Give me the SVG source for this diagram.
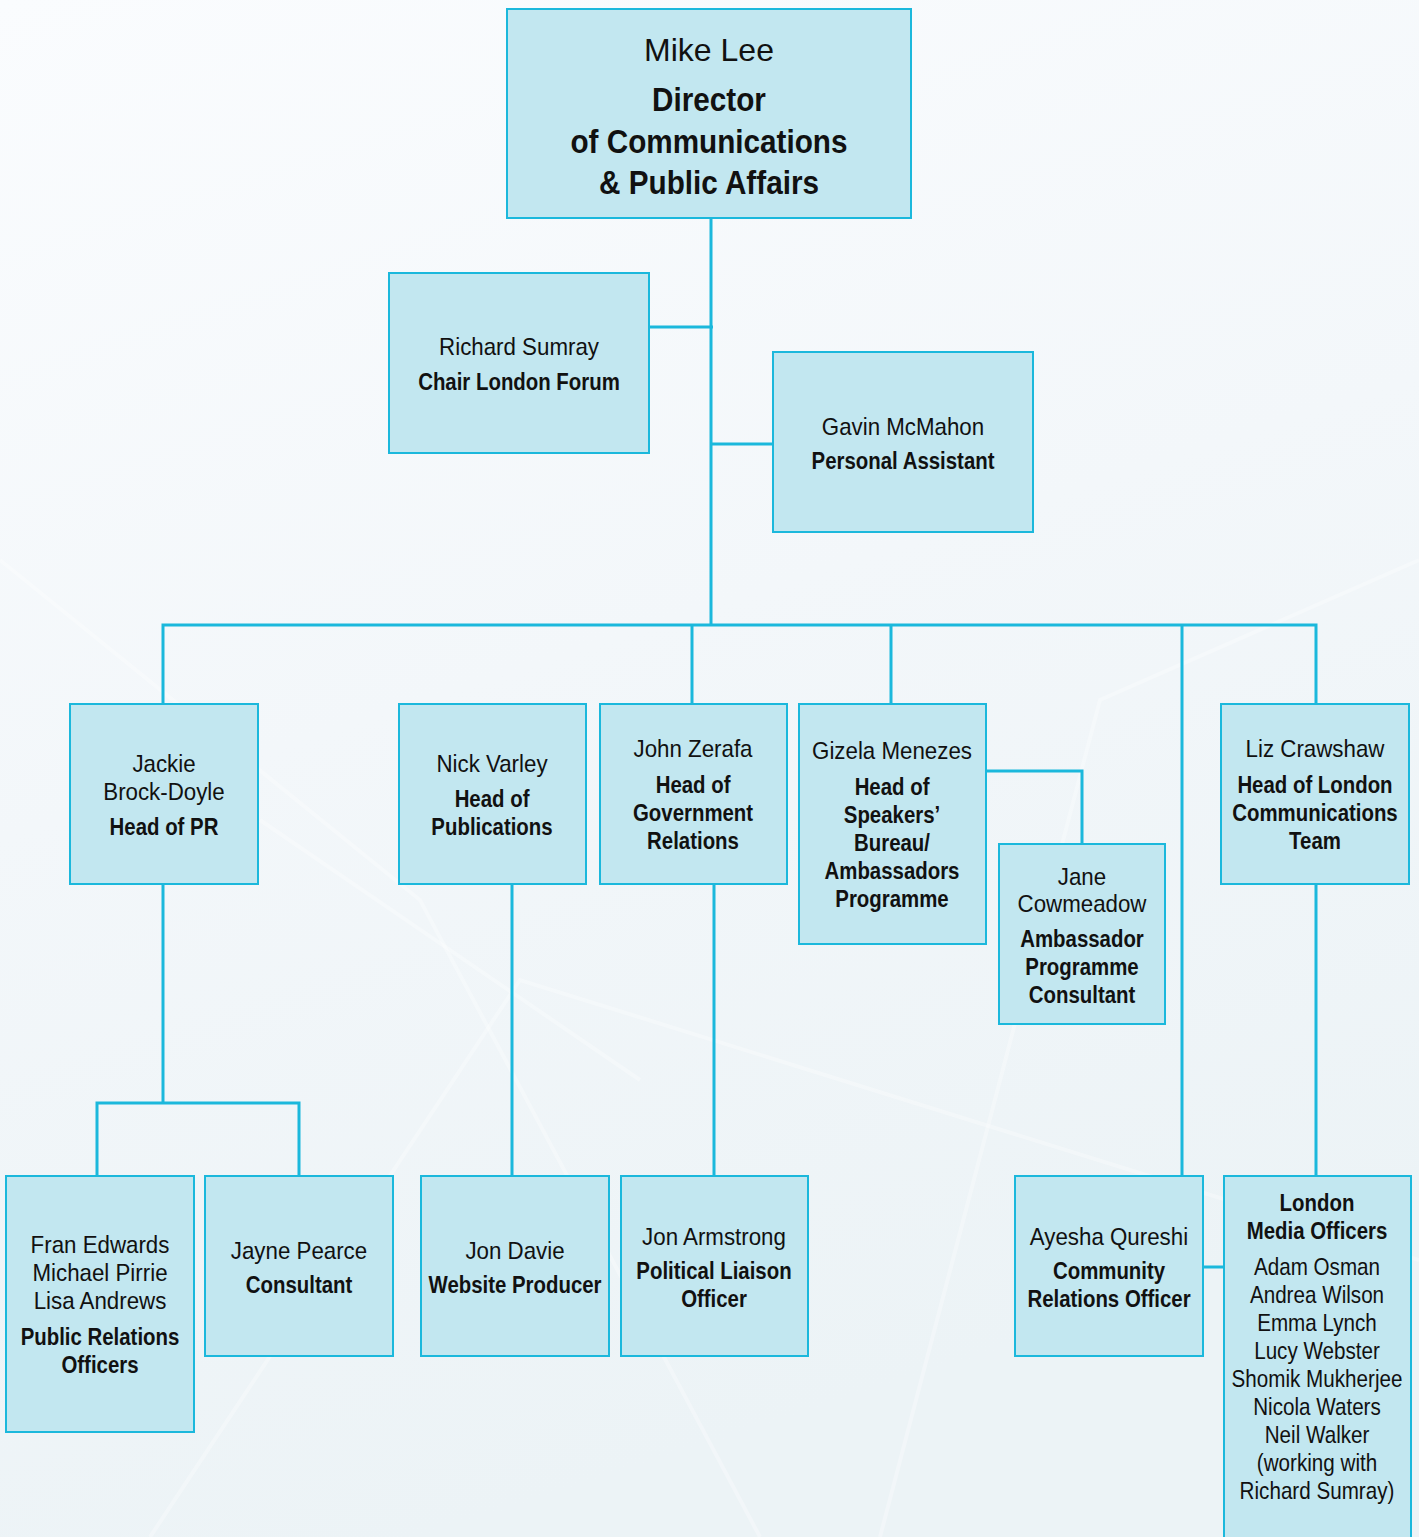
<svg xmlns="http://www.w3.org/2000/svg" width="1419" height="1537" viewBox="0 0 1419 1537">
  <defs>
    <linearGradient id="bg" x1="0" y1="0" x2="0.3" y2="1">
      <stop offset="0" stop-color="#fafcfe"/>
      <stop offset="0.5" stop-color="#f3f7fa"/>
      <stop offset="1" stop-color="#ecf3f6"/>
    </linearGradient>
  </defs>
  <style>
    .box { fill: #c2e7f0; stroke: #1bb8dc; stroke-width: 2; }
    .wire { fill: none; stroke: #1bb8dc; stroke-width: 3; }
    .sheen { fill: none; stroke: #ffffff; stroke-width: 4; opacity: 0.3; }
    text { font-family: "Liberation Sans", Arial, sans-serif; fill: #111; text-anchor: middle; font-size: 24px; }
    .n { transform-box: fill-box; transform-origin: center; transform: scaleX(0.93); }
    .nn { transform-box: fill-box; transform-origin: center; transform: scaleX(0.86); }
    .b { font-weight: bold; transform-box: fill-box; transform-origin: center; transform: scaleX(0.85); }
    .tn { font-size: 32px; }
    .tb { font-size: 33px; font-weight: bold; transform-box: fill-box; transform-origin: center; transform: scaleX(0.9); }
  </style>

  <!-- page background -->
  <rect x="0" y="0" width="1419" height="1537" fill="url(#bg)"/>
  <g id="background-lines">
    <path class="sheen" d="M0 560 L420 900 L760 1537"/>
    <path class="sheen" d="M150 1537 L520 980 L1419 1260"/>
    <path class="sheen" d="M880 1537 L1100 700 L1419 560"/>
    <path class="sheen" d="M260 820 L640 1080"/>
  </g>

  <!-- reporting lines -->
  <g id="connectors">
    <path class="wire" d="M711 218 V625"/>
    <path class="wire" d="M649 327 H713"/>
    <path class="wire" d="M711 444 H773"/>
    <path class="wire" d="M163 704 V625 H1316 V704"/>
    <path class="wire" d="M692 625 V704"/>
    <path class="wire" d="M891 625 V704"/>
    <path class="wire" d="M1182 625 V1176"/>
    <path class="wire" d="M986 771 H1082 V844"/>
    <path class="wire" d="M163 884 V1103"/>
    <path class="wire" d="M97 1176 V1103 H299 V1176"/>
    <path class="wire" d="M512 884 V1176"/>
    <path class="wire" d="M714 884 V1176"/>
    <path class="wire" d="M1316 884 V1176"/>
    <path class="wire" d="M1203 1267 H1224"/>
  </g>

  <g id="mike-lee">
    <rect class="box" x="507" y="9" width="404" height="209"/>
    <text class="tn" x="709" y="61">Mike Lee</text>
    <text class="tb" x="709" y="111">Director</text>
    <text class="tb" x="709" y="153">of Communications</text>
    <text class="tb" x="709" y="194">&amp; Public Affairs</text>
  </g>

  <g id="richard-sumray">
    <rect class="box" x="389" y="273" width="260" height="180"/>
    <text class="n" x="519" y="355">Richard Sumray</text>
    <text class="b" x="519" y="390">Chair London Forum</text>
  </g>

  <g id="gavin-mcmahon">
    <rect class="box" x="773" y="352" width="260" height="180"/>
    <text class="n" x="903" y="435">Gavin McMahon</text>
    <text class="b" x="903" y="469">Personal Assistant</text>
  </g>

  <g id="jackie-brock-doyle">
    <rect class="box" x="70" y="704" width="188" height="180"/>
    <text class="n" x="164" y="772">Jackie</text>
    <text class="n" x="164" y="800">Brock-Doyle</text>
    <text class="b" x="164" y="835">Head of PR</text>
  </g>

  <g id="nick-varley">
    <rect class="box" x="399" y="704" width="187" height="180"/>
    <text class="n" x="492" y="772">Nick Varley</text>
    <text class="b" x="492" y="807">Head of</text>
    <text class="b" x="492" y="835">Publications</text>
  </g>

  <g id="john-zerafa">
    <rect class="box" x="600" y="704" width="187" height="180"/>
    <text class="n" x="693" y="757">John Zerafa</text>
    <text class="b" x="693" y="793">Head of</text>
    <text class="b" x="693" y="821">Government</text>
    <text class="b" x="693" y="849">Relations</text>
  </g>

  <g id="gizela-menezes">
    <rect class="box" x="799" y="704" width="187" height="240"/>
    <text class="n" x="892" y="759">Gizela Menezes</text>
    <text class="b" x="892" y="795">Head of</text>
    <text class="b" x="892" y="823">Speakers’</text>
    <text class="b" x="892" y="851">Bureau/</text>
    <text class="b" x="892" y="879">Ambassadors</text>
    <text class="b" x="892" y="907">Programme</text>
  </g>

  <g id="jane-cowmeadow">
    <rect class="box" x="999" y="844" width="166" height="180"/>
    <text class="n" x="1082" y="885">Jane</text>
    <text class="n" x="1082" y="912">Cowmeadow</text>
    <text class="b" x="1082" y="947">Ambassador</text>
    <text class="b" x="1082" y="975">Programme</text>
    <text class="b" x="1082" y="1003">Consultant</text>
  </g>

  <g id="liz-crawshaw">
    <rect class="box" x="1221" y="704" width="188" height="180"/>
    <text class="n" x="1315" y="757">Liz Crawshaw</text>
    <text class="b" x="1315" y="793">Head of London</text>
    <text class="b" x="1315" y="821">Communications</text>
    <text class="b" x="1315" y="849">Team</text>
  </g>

  <g id="public-relations-officers">
    <rect class="box" x="6" y="1176" width="188" height="256"/>
    <text class="n" x="100" y="1253">Fran Edwards</text>
    <text class="n" x="100" y="1281">Michael Pirrie</text>
    <text class="n" x="100" y="1309">Lisa Andrews</text>
    <text class="b" x="100" y="1345">Public Relations</text>
    <text class="b" x="100" y="1373">Officers</text>
  </g>

  <g id="jayne-pearce">
    <rect class="box" x="205" y="1176" width="188" height="180"/>
    <text class="n" x="299" y="1259">Jayne Pearce</text>
    <text class="b" x="299" y="1293">Consultant</text>
  </g>

  <g id="jon-davie">
    <rect class="box" x="421" y="1176" width="188" height="180"/>
    <text class="n" x="515" y="1259">Jon Davie</text>
    <text class="b" x="515" y="1293">Website Producer</text>
  </g>

  <g id="jon-armstrong">
    <rect class="box" x="621" y="1176" width="187" height="180"/>
    <text class="n" x="714" y="1245">Jon Armstrong</text>
    <text class="b" x="714" y="1279">Political Liaison</text>
    <text class="b" x="714" y="1307">Officer</text>
  </g>

  <g id="ayesha-qureshi">
    <rect class="box" x="1015" y="1176" width="188" height="180"/>
    <text class="n" x="1109" y="1245">Ayesha Qureshi</text>
    <text class="b" x="1109" y="1279">Community</text>
    <text class="b" x="1109" y="1307">Relations Officer</text>
  </g>

  <g id="london-media-officers">
    <rect class="box" x="1224" y="1176" width="187" height="380"/>
    <text class="b" x="1317" y="1211">London</text>
    <text class="b" x="1317" y="1239">Media Officers</text>
    <text class="nn" x="1317" y="1275">Adam Osman</text>
    <text class="nn" x="1317" y="1303">Andrea Wilson</text>
    <text class="nn" x="1317" y="1331">Emma Lynch</text>
    <text class="nn" x="1317" y="1359">Lucy Webster</text>
    <text class="nn" x="1317" y="1387">Shomik Mukherjee</text>
    <text class="nn" x="1317" y="1415">Nicola Waters</text>
    <text class="nn" x="1317" y="1443">Neil Walker</text>
    <text class="nn" x="1317" y="1471">(working with</text>
    <text class="nn" x="1317" y="1499">Richard Sumray)</text>
  </g>
</svg>
